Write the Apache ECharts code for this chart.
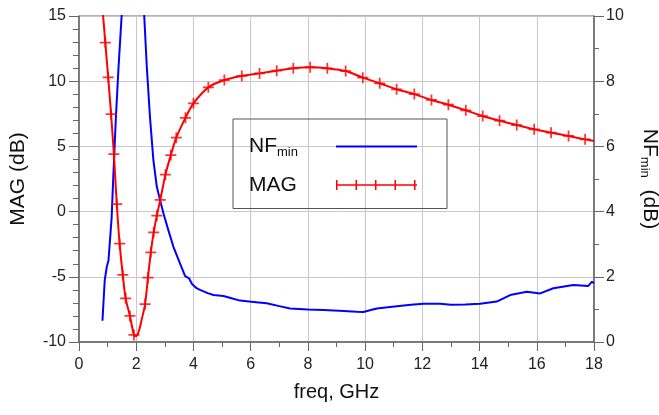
<!DOCTYPE html>
<html>
<head>
<meta charset="utf-8">
<script src="https://cdn.jsdelivr.net/npm/echarts@6/dist/echarts.min.js"></script>
<style>
  html, body { margin: 0; padding: 0; background: #fff; }
  #chart { width: 659px; height: 415px; }
</style>
</head>
<body>
<div id="chart"></div>
<script>
// MAG (dB), red curve: frequency (GHz) and value
var magFreq = [0.8, 0.92, 1.02, 1.12, 1.22, 1.32, 1.42, 1.53, 1.63, 1.78, 1.92, 2.0, 2.1, 2.2,
    2.31, 2.41, 2.51, 2.61, 2.72, 2.84, 3.02, 3.21, 3.40, 3.72, 4.00, 4.52, 5.08, 5.69,
    6.31, 6.91, 7.49, 8.08, 8.68, 9.32, 9.92, 10.51, 11.10, 11.72, 12.32, 12.91, 13.52,
    14.11, 14.70, 15.30, 15.91, 16.50, 17.11, 17.69, 18.0];
var magVals = [16.1, 12.95, 10.30, 7.48, 4.40, 0.58, -2.46, -4.86, -6.65, -8.00, -9.46, -9.55, -9.1, -8.2,
    -7.09, -5.07, -3.12, -1.59, -0.31, 0.89, 2.83, 4.34, 5.67, 7.19, 8.30, 9.53, 10.09, 10.40,
    10.60, 10.81, 10.99, 11.07, 10.99, 10.78, 10.27, 9.84, 9.38, 9.01, 8.56, 8.20, 7.77,
    7.33, 6.97, 6.64, 6.31, 6.05, 5.80, 5.54, 5.41];

// "+" markers drawn on the MAG curve
var markFreq = [0.92, 1.02, 1.12, 1.22, 1.32, 1.42, 1.53, 1.63, 1.78, 1.92,
    2.31, 2.41, 2.51, 2.61, 2.72, 2.84, 3.02, 3.21, 3.40, 3.72, 4.00, 4.52, 5.08, 5.69,
    6.31, 6.91, 7.49, 8.08, 8.68, 9.32, 9.92, 10.51, 11.10, 11.72, 12.32, 12.91, 13.52,
    14.11, 14.70, 15.30, 15.91, 16.50, 17.11, 17.69];
var markMag = [12.95, 10.30, 7.48, 4.40, 0.58, -2.46, -4.86, -6.65, -8.00, -9.46,
    -7.09, -5.07, -3.12, -1.59, -0.31, 0.89, 2.83, 4.34, 5.67, 7.19, 8.30, 9.53, 10.09, 10.40,
    10.60, 10.81, 10.99, 11.07, 10.99, 10.78, 10.27, 9.84, 9.38, 9.01, 8.56, 8.20, 7.77,
    7.33, 6.97, 6.64, 6.31, 6.05, 5.80, 5.54];

// NFmin (dB), blue curve, right axis
var nfFreq = [0.82, 0.90, 0.97, 1.03, 1.14, 1.20, 1.29, 1.38, 1.49, 1.6, 1.8, 1.95, 2.1,
    2.28, 2.37, 2.48, 2.60, 2.72, 2.83, 2.95, 3.12, 3.30, 3.53, 3.71, 3.85, 3.95, 4.11,
    4.23, 4.50, 4.70, 5.05, 5.30, 5.63, 6.10, 6.56, 7.00, 7.38, 8.00, 8.54, 9.10, 9.71,
    9.94, 10.20, 10.41, 11.11, 11.60, 12.04, 12.62, 13.0, 13.5, 14.02, 14.60, 15.07,
    15.65, 16.12, 16.58, 17.28, 17.80, 17.93, 18.0];
var nfVals = [0.65, 1.90, 2.30, 2.50, 3.80, 5.10, 6.90, 8.40, 10.0, 11.6, 13.6, 14.3, 13.2,
    10.0, 8.44, 6.91, 5.58, 4.76, 4.36, 3.95, 3.44, 2.92, 2.41, 2.02, 1.95, 1.78, 1.65,
    1.60, 1.50, 1.44, 1.41, 1.35, 1.27, 1.23, 1.19, 1.10, 1.03, 1.00, 0.98, 0.96, 0.93,
    0.92, 0.98, 1.03, 1.10, 1.14, 1.17, 1.17, 1.14, 1.15, 1.17, 1.24, 1.44,
    1.54, 1.49, 1.65, 1.75, 1.72, 1.85, 1.80];

function pairs(xs, ys) {
    return xs.map(function (x, i) { return [x, ys[i]]; });
}

var font = 'Liberation Sans, Arial, Helvetica, sans-serif';
var plusSymbol = 'path://M4.2,0H5.8V4.2H10V5.8H5.8V10H4.2V5.8H0V4.2H4.2Z';
// legend icons, 81x10 boxes (tiny corner squares keep the box size for the plain line)
var nfLegendIcon = 'path://M0,0H0.01V0.01H0Z M0,4.1H81V5.9H0Z M80.99,9.99H81V10H80.99Z';
var magLegendIcon = 'path://M0,0H1.5V4.2H19.5V0H21V4.2H39V0H40.5V4.2H58.5V0H60V4.2H78V0H79.5V4.2H81V5.8H79.5V10H78V5.8H60V10H58.5V5.8H40.5V10H39V5.8H21V10H19.5V5.8H1.5V10H0Z';

var chart = echarts.init(document.getElementById('chart'));

var option = {
    animation: false,
    textStyle: { fontFamily: font },
    grid: {
        left: 79, right: 65, top: 16, bottom: 73,
        outerBoundsMode: 'none',
        containLabel: false,
        show: true, borderColor: '#666', borderWidth: 1
    },
    legend: {
        orient: 'vertical',
        left: 233, top: 119,
        padding: [17, 30, 13, 16],
        itemGap: 16,
        itemWidth: 81,
        itemHeight: 10,
        align: 'right',
        borderColor: '#555',
        borderWidth: 1,
        selectedMode: false,
        data: [
            { name: 'NFmin', icon: nfLegendIcon },
            { name: 'MAG', icon: magLegendIcon }
        ],
        formatter: function (name) {
            return name === 'NFmin' ? '{a|NF}{s|min}' : '{m|MAG}';
        },
        textStyle: {
            color: '#111',
            rich: {
                a: { fontSize: 21, fontFamily: font, color: '#111', lineHeight: 24, align: 'left' },
                s: { fontSize: 13, fontFamily: font, color: '#111', lineHeight: 17, width: 54, align: 'left', verticalAlign: 'bottom' },
                m: { fontSize: 21, fontFamily: font, color: '#111', lineHeight: 24, width: 82, align: 'left' }
            }
        }
    },
    xAxis: {
        type: 'value',
        min: 0, max: 18, interval: 2,
        name: 'freq, GHz',
        nameLocation: 'middle',
        nameGap: 40,
        nameTextStyle: { fontSize: 20, color: '#111', fontFamily: font },
        axisLine: { onZero: false, lineStyle: { color: '#666', width: 1.5 } },
        axisTick: { length: 9, lineStyle: { color: '#666' } },
        minorTick: { show: true, splitNumber: 2, length: 5, lineStyle: { color: '#666' } },
        axisLabel: { fontSize: 16, color: '#222', margin: 15 },
        splitLine: { show: true, lineStyle: { color: '#c8c8c8', width: 1 } }
    },
    yAxis: [
        {
            type: 'value',
            min: -10, max: 15, interval: 5,
            name: 'MAG (dB)',
            nameLocation: 'middle',
            nameGap: 50,
            nameTextStyle: { fontSize: 21, color: '#111', fontFamily: font },
            axisLine: { show: true, onZero: false, lineStyle: { color: '#666', width: 1.5 } },
            axisTick: { show: true, length: 10, lineStyle: { color: '#666' } },
            minorTick: { show: true, splitNumber: 5, length: 6, lineStyle: { color: '#666' } },
            axisLabel: { fontSize: 16, color: '#222', margin: 13 },
            splitLine: { show: true, lineStyle: { color: '#c8c8c8', width: 1 } }
        },
        {
            type: 'value',
            position: 'right',
            min: 0, max: 10, interval: 2,
            name: '{a|NF}{s|min}{b|  (dB)}',
            nameLocation: 'middle',
            nameRotate: -90,
            nameGap: 44,
            nameTextStyle: {
                rich: {
                    a: { fontSize: 21, fontFamily: font, color: '#111', lineHeight: 24 },
                    s: { fontSize: 13, fontFamily: font, color: '#111', lineHeight: 17, verticalAlign: 'bottom' },
                    b: { fontSize: 21, fontFamily: font, color: '#111', lineHeight: 24 }
                }
            },
            axisLine: { show: true, onZero: false, lineStyle: { color: '#666', width: 1.5 } },
            axisTick: { show: true, length: 10, lineStyle: { color: '#666' } },
            minorTick: { show: true, splitNumber: 2, length: 5, lineStyle: { color: '#666' } },
            axisLabel: { fontSize: 16, color: '#222', margin: 12 },
            splitLine: { show: false }
        }
    ],
    series: [
        {
            name: 'NFmin',
            type: 'line',
            yAxisIndex: 1,
            data: pairs(nfFreq, nfVals),
            symbol: 'none',
            clip: true,
            lineStyle: { color: '#0000ff', width: 2 },
            itemStyle: { color: '#0000ff' },
            z: 3
        },
        {
            name: 'MAG',
            type: 'line',
            yAxisIndex: 0,
            data: pairs(magFreq, magVals),
            symbol: 'none',
            smooth: 0.3,
            clip: true,
            lineStyle: { color: '#ff0000', width: 2 },
            itemStyle: { color: '#ff0000' },
            z: 4
        },
        {
            name: 'MAG',
            type: 'scatter',
            yAxisIndex: 0,
            data: pairs(markFreq, markMag),
            symbol: plusSymbol,
            symbolSize: 11,
            itemStyle: { color: '#ff0000' },
            z: 5
        }
    ]
};

chart.setOption(option);
</script>
</body>
</html>
